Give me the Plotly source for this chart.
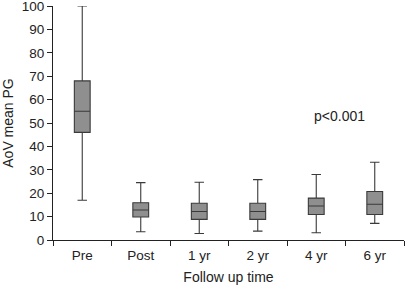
import plotly.graph_objects as go

categories = ["Pre", "Post", "1 yr", "2 yr", "4 yr", "6 yr"]
lower_whisker = [17, 3.5, 2.8, 3.8, 3.1, 7.1]
q1_values = [46, 9.8, 8.8, 8.8, 10.9, 10.9]
median_values = [55, 12.8, 12.2, 12.2, 14.5, 15.3]
q3_values = [68, 15.9, 15.7, 15.7, 17.9, 20.7]
upper_whisker = [100, 24.5, 24.7, 25.8, 28, 33.2]
y_ticks = list(range(0, 101, 10))

fig = go.Figure()
fig.add_trace(go.Box(
    x=categories,
    q1=q1_values,
    median=median_values,
    q3=q3_values,
    lowerfence=lower_whisker,
    upperfence=upper_whisker,
    fillcolor="#8f8f8f",
    line=dict(color="#3a3a3a", width=1.1),
    width=0.27,
    whiskerwidth=0.6,
    boxpoints=False,
    showlegend=False,
    hoverinfo="skip",
))

fig.add_annotation(x=4.4, y=53, xref="x", yref="y", text="p<0.001", showarrow=False,
                   font=dict(size=14, color="#222"))

fig.update_layout(
    width=405, height=286,
    margin=dict(l=53, r=1, t=6, b=46, autoexpand=False),
    paper_bgcolor="white", plot_bgcolor="white",
    font=dict(family="Liberation Sans, Arial, sans-serif", size=13.5, color="#222"),
)
fig.update_xaxes(
    type="category", tickson="boundaries", ticks="outside", ticklen=5, tickcolor="#222",
    showline=True, linecolor="#222", linewidth=1, showgrid=False, zeroline=False,
    title=dict(text="Follow up time", font=dict(size=14), standoff=9),
    tickfont=dict(size=13.5), range=[-0.5, 5.5], automargin=False, ticklabelstandoff=3,
)
fig.update_yaxes(
    range=[0, 100], tickvals=y_ticks, ticks="outside", ticklen=5, tickcolor="#222",
    showline=True, linecolor="#222", linewidth=1, showgrid=False, zeroline=False,
    title=dict(text="AoV mean PG", font=dict(size=14), standoff=5),
    tickfont=dict(size=13.5), automargin=False, ticklabeloverflow="allow",
)

fig.write_html("out.html", config={"displayModeBar": False},
               post_script="document.body.style.margin='0';")
